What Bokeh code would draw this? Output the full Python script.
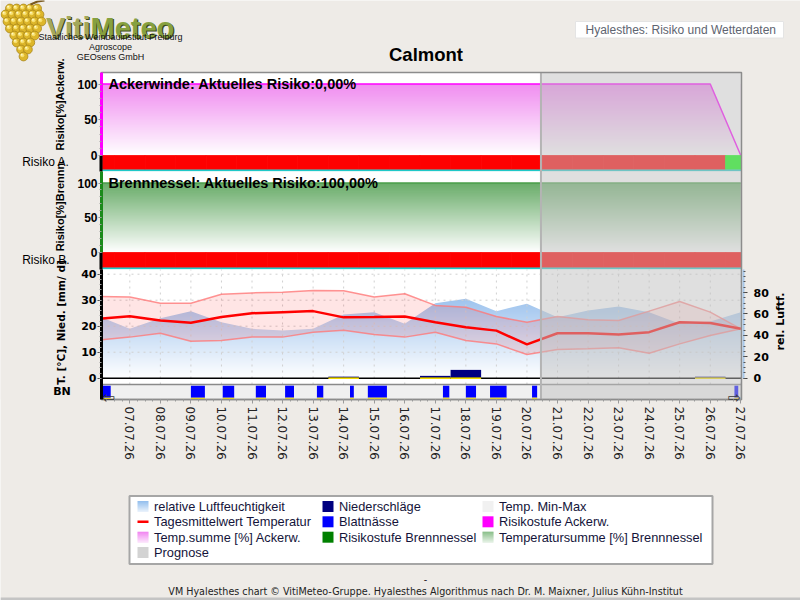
import math
import numpy as np
from bokeh.plotting import figure
from bokeh.models import Range1d, LinearAxis, FixedTicker, ColumnDataSource
from bokeh.embed import file_html
from bokeh.resources import INLINE
from bokeh.core.properties import value

# ------------------------------------------------------------------ data
tick_labels = ["07.07.26", "08.07.26", "09.07.26", "10.07.26", "11.07.26", "12.07.26",
               "13.07.26", "14.07.26", "15.07.26", "16.07.26", "17.07.26", "18.07.26",
               "19.07.26", "20.07.26", "21.07.26", "22.07.26", "23.07.26", "24.07.26",
               "25.07.26", "26.07.26", "27.07.26"]

# daily values, 06.07.26 (index -1) .. 27.07.26 (index 20)
day_index = [-1, 0, 1, 2, 3, 4, 5, 6, 7, 8, 9, 10, 11, 12, 13, 14, 15, 16, 17, 18, 19, 20]
temp_mean = [22.9, 23.8, 22.2, 21.3, 23.5, 25.0, 25.4, 25.8, 23.4, 23.5, 23.7,
             21.5, 19.6, 18.3, 13.0, 17.3, 17.3, 16.8, 17.7, 21.5, 21.2, 19.0]
temp_max = [31.4, 31.2, 28.8, 28.8, 32.3, 32.8, 33.1, 33.7, 33.6, 31.2, 32.5,
            28.0, 27.3, 23.7, 21.5, 23.7, 22.5, 22.2, 25.8, 29.5, 25.4, 19.0]
temp_min = [14.7, 15.8, 17.3, 14.2, 14.5, 15.8, 15.8, 17.7, 18.4, 16.8, 15.8,
            17.7, 14.5, 13.2, 9.1, 11.0, 11.3, 11.7, 9.6, 13.2, 16.4, 19.0]
rel_humidity = [57.6, 46.1, 56.0, 62.6, 52.3, 46.1, 44.5, 46.1, 59.5, 61.6, 50.8,
                70.0, 74.1, 62.6, 69.5, 57.0, 63.2, 66.9, 61.6, 50.8, 52.9, 61.6]
precipitation = [0, 0, 0, 0, 0, 0, 0, 0, 0.6, 0, 0,
                 0.9, 3.2, 0, 0, 0, 0, 0, 0, 0, 0.6, 0]

tsum_ackerwinde = [100, 100, 100, 100, 100, 100, 100, 100, 100, 100, 100,
                   100, 100, 100, 100, 100, 100, 100, 100, 100, 100, 0]
tsum_brennnessel = [100, 100, 100, 100, 100, 100, 100, 100, 100, 100, 100,
                    100, 100, 100, 100, 100, 100, 100, 100, 100, 100, 100]
# risk class per day: 3 = high, 1 = low
risk_ackerwinde = [3, 3, 3, 3, 3, 3, 3, 3, 3, 3, 3, 3, 3, 3, 3, 3, 3, 3, 3, 3, 3, 1]
risk_brennnessel = [3, 3, 3, 3, 3, 3, 3, 3, 3, 3, 3, 3, 3, 3, 3, 3, 3, 3, 3, 3, 3, 3]

# leaf wetness periods: start hour (from 07.07.26 00:00) and duration in hours
wet_start_h = [-23, 48, 73, 99, 122, 147, 173, 187, 246, 264, 283, 316, 475]
wet_hours = [8, 11, 9, 8, 7, 5, 3, 15, 5, 8, 13, 4, 3]

forecast_from_h = 323  # start of the forecast period

current_risk = {"Ackerwinde": "0,00%", "Brennnessel": "100,00%"}

# ------------------------------------------------------------------ page geometry
BG = "#EEEBE7"
RISK_COLORS = {1: "#00FF00", 3: "#FF0000"}
PX_DAY0, PX_PER_DAY = 129.3, 30.55        # page position of 07.07.26, width of one day
PLOT_L, PLOT_R = 101, 741


def day_at(px):
    return (px - PX_DAY0) / PX_PER_DAY


X0, X1 = day_at(PLOT_L), day_at(PLOT_R)
FC_X = forecast_from_h / 24.0

P1_TOP, P1_HUNDRED, P1_ZERO, P1_BAR, P1_BOTTOM = 72, 83.5, 155.0, 169.0, 171
P2_TOP, P2_HUNDRED, P2_ZERO, P2_BAR, P2_BOTTOM = 171, 182.5, 252.0, 267.0, 269
W_TOP, W_ZERO, BN_TOP_PX, W_BOTTOM = 269, 377.7, 384, 399
T_PX, RH_PX, BN_PX = 2.6, 1.071, 15.0      # pixels per degree / percent / strip unit


def from_px(zero_px, px_per_unit):
    return lambda px: (zero_px - px) / px_per_unit


v_acker = from_px(P1_ZERO, (P1_ZERO - P1_HUNDRED) / 100.0)
v_nessel = from_px(P2_ZERO, (P2_ZERO - P2_HUNDRED) / 100.0)
t_at = from_px(W_ZERO, T_PX)
rh_at = from_px(W_ZERO, RH_PX)
bn_at = from_px(W_BOTTOM, BN_PX)

p = figure(width=800, height=600, title=None,
           x_range=Range1d(day_at(0), day_at(800)), y_range=Range1d(t_at(600), t_at(0)),
           output_backend="svg", toolbar_location=None,
           x_axis_location=None, y_axis_location=None, min_border=0,
           background_fill_color=BG, border_fill_color=BG, outline_line_color=None)
p.extra_x_ranges = {"px": Range1d(0, 800)}
p.extra_y_ranges = {"px": Range1d(600, 0),
                    "acker": Range1d(v_acker(600), v_acker(0)),
                    "nessel": Range1d(v_nessel(600), v_nessel(0)),
                    "rh": Range1d(rh_at(600), rh_at(0)),
                    "bn": Range1d(bn_at(600), bn_at(0))}
p.grid.visible = False
PX = dict(x_range_name="px", y_range_name="px")


def gradient_rgba(top_rgb, n=256):
    t = np.linspace(0.0, 1.0, n)[:, None]
    rgb = 255.0 + (np.array(top_rgb, float)[None, :] - 255.0) * t
    img = np.empty((n, 1), dtype=np.uint32)
    view = img.view(dtype=np.uint8).reshape((n, 1, 4))
    view[:, 0, :3] = np.round(rgb).astype(np.uint8)
    view[:, 0, 3] = 255
    return img


def mix(rgb, t):
    r, g, b = (int(round(255 + (c - 255) * t)) for c in rgb)
    return "#%02x%02x%02x" % (r, g, b)


def txt(x, y, s, size, font="Liberation Sans", bold=False, color="black", align="left",
        baseline="middle", angle=0.0, rng=None):
    p.text(x=[x], y=[y], text=[s], text_font=value(font), text_font_size=size,
           text_font_style="bold" if bold else "normal", text_color=color,
           text_align=align, text_baseline=baseline, angle=angle, **(rng or PX))


# ------------------------------------------------------------------ header
grape_x, grape_y = [], []
for yy, n, shift in [(8, 5, 1), (14, 6, 0), (21, 6, 2), (28, 5, 1), (35, 4, 2),
                     (42, 3, 1), (49, 2, 2), (56, 1, 1)]:
    for k in range(n):
        grape_x.append(22 + shift + (k - (n - 1) / 2) * 6.8)
        grape_y.append(yy)
p.circle(grape_x, grape_y, radius=4.4, fill_color="#DDB62A", line_color="#A8861A",
         line_width=0.8, **PX)
p.circle([gx - 1.2 for gx in grape_x], [gy - 1.2 for gy in grape_y], radius=2.0,
         fill_color="#F6DE6A", line_color=None, **PX)
p.circle([gx - 1.8 for gx in grape_x], [gy - 1.8 for gy in grape_y], radius=0.9,
         fill_color="#FFF8C8", line_color=None, **PX)
p.line([30, 37, 44], [4, 1, 0], line_color="#7A5A20", line_width=2, **PX)
for dx, c_viti, c_meteo in [(1.2, "#3E4A1C", "#3E4A1C"), (0, "#A4A85A", "#86A040")]:
    txt(90 + dx, 27 + dx, "Viti", "29px", bold=True, color=c_viti, align="right", baseline="alphabetic")
    txt(90 + dx, 27 + dx, "Meteo", "29px", bold=True, color=c_meteo, baseline="alphabetic")
for yy, s in [(36.5, "Staatliches Weinbauinstitut Freiburg"), (46, "Agroscope"), (56.5, "GEOsens GmbH")]:
    txt(110, yy, s, "9px", color="#111111", align="center", baseline="alphabetic")
txt(425.5, 53.5, "Calmont", "18.5px", bold=True, align="center")
p.quad(left=575, right=783, top=21, bottom=37.5, fill_color="white", line_color="#E4E4E4", **PX)
txt(585, 29.5, "Hyalesthes: Risiko und Wetterdaten", "12px", color="#5E6470")


# ------------------------------------------------------------------ risk panels
def risk_panel(rng, val, top_px, bar_px, bottom_px, tsum, risk, grad_top, edge_color):
    y_hi, y_lo = val(top_px), val(bottom_px)
    p.quad(left=X0, right=X1, top=y_hi, bottom=y_lo, fill_color="white", line_color=None,
           y_range_name=rng)
    # temperature sum area with vertical colour fade
    p.image_rgba(image=[gradient_rgba(grad_top)], x=day_index[0], y=0,
                 dw=day_index[-1] - day_index[0], dh=100, y_range_name=rng)
    p.varea(x=day_index, y1=tsum, y2=y_hi, fill_color="white", y_range_name=rng)
    p.line(day_index, tsum, line_color=edge_color, line_width=1.5, y_range_name=rng)
    # daily risk class bar
    src = ColumnDataSource(dict(left=[d - 0.5 for d in day_index],
                                right=[d + 0.5 for d in day_index],
                                color=[RISK_COLORS[r] for r in risk]))
    p.quad(left="left", right="right", top=0, bottom=val(bar_px), fill_color="color",
           line_color="color", line_width=0.8, source=src, y_range_name=rng)
    p.quad(left=X0, right=X1, top=val(bar_px), bottom=y_lo, fill_color="#1EC8C8",
           line_color=None, y_range_name=rng)


risk_panel("acker", v_acker, P1_TOP, P1_BAR, P1_BOTTOM, tsum_ackerwinde, risk_ackerwinde,
           (240, 140, 240), "#FF00FF")
risk_panel("nessel", v_nessel, P2_TOP, P2_BAR, P2_BOTTOM, tsum_brennnessel, risk_brennnessel,
           (104, 172, 104), "#4A9E4A")

# ------------------------------------------------------------------ weather panel
p.quad(left=X0, right=X1, top=t_at(W_TOP), bottom=t_at(BN_TOP_PX), fill_color="white",
       line_color=None)
# relative humidity with colour fade
p.image_rgba(image=[gradient_rgba((125, 175, 232))], x=day_index[0], y=0,
             dw=day_index[-1] - day_index[0], dh=100, y_range_name="rh")
p.varea(x=day_index, y1=rel_humidity, y2=rh_at(W_TOP), fill_color="white", y_range_name="rh")

# dotted grid
grid_days = list(range(len(tick_labels)))
p.segment(x0=grid_days, x1=grid_days, y0=t_at(BN_TOP_PX), y1=t_at(W_TOP),
          line_color="#D0D0D0", line_dash="dotted", line_width=1)
grid_t = [10, 20, 30, 40]
p.segment(x0=X0, x1=X1, y0=grid_t, y1=grid_t, line_color="#D0D0D0", line_dash="dotted", line_width=1)

# temperature min-max band and daily mean
p.varea(x=day_index, y1=temp_min, y2=temp_max, fill_color="#FF0000", fill_alpha=0.1)
p.line(day_index, temp_max, line_color="#FF7878", line_width=1.5, line_alpha=0.8)
p.line(day_index, temp_min, line_color="#FF7878", line_width=1.5, line_alpha=0.8)
p.line(day_index, temp_mean, line_color="#FF0000", line_width=2.5)

# precipitation
p.vbar(x=day_index, top=precipitation, bottom=0, width=1.0, fill_color="#000080", line_color=None)
p.line([X0, X1], [0, 0], line_color="black", line_width=1.5)
rain_x = [d for d, r in zip(day_index, precipitation) if r > 0]
p.segment(x0=[d - 0.5 for d in rain_x], x1=[d + 0.5 for d in rain_x], y0=0, y1=0,
          line_color="#FFE800", line_width=1.5)

# leaf wetness strip
p.quad(left=X0, right=X1, bottom=0, top=1, fill_color="#F0F0F0", line_color="#8A8A8A",
       line_width=1.5, y_range_name="bn")
wet_left = [s / 24.0 for s in wet_start_h]
wet_right = [(s + h) / 24.0 for s, h in zip(wet_start_h, wet_hours)]
p.quad(left=wet_left, right=wet_right, bottom=0.12, top=0.92, fill_color="#0000FF",
       line_color=None, y_range_name="bn")
p.quad(left=wet_left, right=wet_right, bottom=0.04, top=0.12, fill_color="#FFE800",
       line_color=None, y_range_name="bn")

# forecast period over all panels
p.quad(left=FC_X, right=X1, top=P1_TOP, bottom=W_BOTTOM, fill_color="#C0C0C0", fill_alpha=0.5,
       line_color=None, y_range_name="px")
p.segment(x0=FC_X, x1=FC_X, y0=P1_TOP, y1=W_BOTTOM, line_color="#B4B4B4", line_width=2,
          y_range_name="px")

# keep the data inside the plotting area
p.quad(left=0, right=PLOT_L, top=P1_TOP, bottom=W_BOTTOM, fill_color=BG, line_color=None, **PX)
p.quad(left=PLOT_R, right=800, top=P1_TOP, bottom=W_BOTTOM, fill_color=BG, line_color=None, **PX)
p.quad(left=PLOT_L, right=PLOT_R, top=P1_TOP, bottom=W_BOTTOM, fill_color=None,
       line_color="#8C8C8C", line_width=1.5, **PX)
for y0, y1 in [(P1_ZERO, P1_BOTTOM), (P2_ZERO, P2_BOTTOM)]:
    p.segment(x0=PLOT_L - 0.5, x1=PLOT_L - 0.5, y0=y0, y1=y1, line_color="black", line_width=3, **PX)

# scroll arrows below the strip
txt(PLOT_L, 397, "\u21e6", "16px", font="DejaVu Sans", color="#3A3A3A")
txt(PLOT_R, 397, "\u21e8", "16px", font="DejaVu Sans", color="#3A3A3A", align="right")


# ------------------------------------------------------------------ axes
def style_axis(ax, color, font, size, width=3):
    ax.axis_line_color = color
    ax.axis_line_width = width
    ax.major_tick_line_color = "#8A8A8A"
    ax.major_tick_out = 3
    ax.major_tick_in = 0
    ax.minor_tick_line_color = "#A0A0A0"
    ax.minor_tick_out = 2
    ax.minor_tick_in = 0
    ax.major_label_text_font = font
    ax.major_label_text_font_style = "bold"
    ax.major_label_text_font_size = size
    ax.major_label_text_color = "black"
    ax.major_label_standoff = 1


pct_minor = [0, 10, 20, 30, 40, 50, 60, 70, 80, 90, 100]
for rng, val, top_px, color in [("acker", v_acker, P1_TOP, "#FF00FF"),
                                ("nessel", v_nessel, P2_TOP, "#1A8A1A")]:
    ax = LinearAxis(y_range_name=rng, fixed_location=X0, bounds=(0, val(top_px)),
                    ticker=FixedTicker(ticks=[0, 50, 100], minor_ticks=pct_minor))
    style_axis(ax, color, "Liberation Sans", "12px")
    p.add_layout(ax, "left")

ax_t = LinearAxis(fixed_location=X0, bounds=(t_at(W_BOTTOM), t_at(W_TOP)),
                  ticker=FixedTicker(ticks=[0, 10, 20, 30, 40], minor_ticks=list(range(0, 42, 2))))
style_axis(ax_t, "black", "DejaVu Sans", "11px")
ax_t.major_tick_line_color = "#555555"
ax_t.major_tick_out = 4
p.add_layout(ax_t, "left")

ax_rh = LinearAxis(y_range_name="rh", fixed_location=day_at(743), bounds=(0, rh_at(W_TOP)),
                   ticker=FixedTicker(ticks=[0, 20, 40, 60, 80], minor_ticks=list(range(0, 101, 5))))
style_axis(ax_rh, "#A8C8EA", "DejaVu Sans", "11px", width=2)
ax_rh.major_tick_line_color = "#444444"
ax_rh.minor_tick_line_color = "#555555"
ax_rh.major_tick_out = 4
ax_rh.major_label_standoff = 6
p.add_layout(ax_rh, "right")

ax_x = LinearAxis(fixed_location=t_at(W_BOTTOM), bounds=(X0, X1),
                  ticker=FixedTicker(ticks=grid_days,
                                     minor_ticks=[q / 4 for q in range(-3, 4 * len(tick_labels) - 3)]))
ax_x.major_label_overrides = {i: lab for i, lab in enumerate(tick_labels)}
ax_x.major_label_orientation = -math.pi / 2
ax_x.axis_line_color = None
ax_x.major_tick_line_color = "#9A9A9A"
ax_x.major_tick_out = 4
ax_x.major_tick_in = 0
ax_x.minor_tick_line_color = "#9A9A9A"
ax_x.minor_tick_out = 2
ax_x.minor_tick_in = 0
ax_x.major_label_text_font = "DejaVu Sans"
ax_x.major_label_text_font_size = "12px"
ax_x.major_label_text_color = "#222222"
ax_x.major_label_standoff = 3
p.add_layout(ax_x, "below")

# ------------------------------------------------------------------ panel texts
txt(108, P1_HUNDRED, "Ackerwinde: Aktuelles Risiko:" + current_risk["Ackerwinde"], "14.5px", bold=True)
txt(108, P2_HUNDRED, "Brennnessel: Aktuelles Risiko:" + current_risk["Brennnessel"], "14.5px", bold=True)
txt(59, 104, "Risiko[%]Ackerw.", "11px", bold=True, align="center", angle=math.pi / 2)
txt(59, 205, "Risiko[%]Brennn.", "11px", bold=True, align="center", angle=math.pi / 2)
txt(69, 161.7, "Risiko A.", "12px", align="right")
txt(69, 259.3, "Risiko B.", "12px", align="right")
txt(60, 322, "T. [°C], Nied. [mm/ d]", "10.5px", font="DejaVu Sans", bold=True,
    align="center", angle=math.pi / 2)
txt(61.5, 391, "BN", "11px", font="DejaVu Sans", bold=True, align="center")
txt(780, 321, "rel. Luftf.", "11px", font="DejaVu Sans", bold=True, align="center",
    angle=math.pi / 2)

# ------------------------------------------------------------------ legend and footer
p.quad(left=129, right=712, top=495.5, bottom=563.5, fill_color="white",
       line_color="#A6A6A6", line_width=2, **PX)
col_x = [137, 322, 482]
row_y = [506, 521.3, 536.7, 552]
legend_items = [
    (0, 0, "relative Luftfeuchtigkeit", "fade", (150, 192, 238)),
    (0, 1, "Tagesmittelwert Temperatur", "line", "#FF0000"),
    (0, 2, "Temp.summe [%] Ackerw.", "fade", (238, 110, 238)),
    (0, 3, "Prognose", "box", "#D3D3D3"),
    (1, 0, "Niederschläge", "box", "#000080"),
    (1, 1, "Blattnässe", "box", "#0000FF"),
    (1, 2, "Risikostufe Brennnessel", "box", "#008000"),
    (2, 0, "Temp. Min-Max", "box", "#F1F1F1"),
    (2, 1, "Risikostufe Ackerw.", "box", "#FF00FF"),
    (2, 2, "Temperatursumme [%] Brennnessel", "fade", (110, 176, 110)),
]
for c, r, text, kind, color in legend_items:
    x, y = col_x[c], row_y[r]
    if kind == "line":
        p.line([x, x + 11], [y, y], line_color=color, line_width=2.5, **PX)
    elif kind == "box":
        p.quad(left=x, right=x + 11, top=y - 5.5, bottom=y + 5.5, fill_color=color,
               line_color=None, **PX)
    else:
        for s in range(11):
            p.quad(left=x, right=x + 11, top=y - 5.5 + s, bottom=y - 4.5 + s,
                   fill_color=mix(color, 1.0 - s / 13.0), line_color=None, **PX)
    txt(x + 16.5, y, text, "12.8px", color="#14143A")

txt(425, 578, "-", "9.6px", font="DejaVu Sans", color="#222222", align="center")
txt(425, 591, "VM Hyalesthes chart © VitiMeteo-Gruppe. Hyalesthes Algorithmus nach "
              "Dr. M. Maixner, Julius Kühn-Institut", "9.6px", font="DejaVu Sans",
    color="#222222", align="center")
p.quad(left=0, right=800, top=597, bottom=600, fill_color="#C4C4C4", line_color=None, **PX)

open("out.html", "w").write(file_html(p, INLINE))
